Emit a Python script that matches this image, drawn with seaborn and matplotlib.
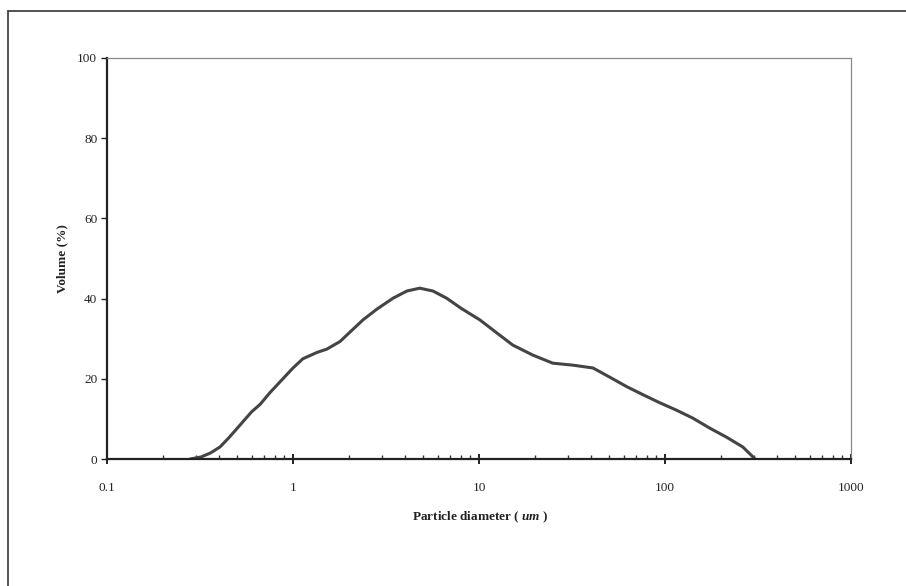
import numpy as np
import pandas as pd
import matplotlib
matplotlib.use("Agg")
import matplotlib.pyplot as plt
import seaborn as sns
from matplotlib.lines import Line2D
from matplotlib.ticker import LogLocator, FixedLocator, FixedFormatter, NullFormatter

# Data
diameter = [0.28, 0.32, 0.36, 0.405, 0.45, 0.50, 0.55, 0.60, 0.665, 0.75, 0.85, 1.0,
            1.13, 1.35, 1.52, 1.79, 2.03, 2.38, 2.83, 3.45, 4.1, 4.8, 5.65, 6.7,
            8.0, 10.1, 12.5, 15.2, 19.5, 24.9, 32.0, 41.0, 50.5, 62.5, 76.4, 94.0,
            115.0, 141.0, 174.0, 215.0, 262.0, 305.0]
volume = [0.0, 0.5, 1.5, 3.0, 5.2, 7.6, 9.8, 11.8, 13.6, 16.5, 19.2, 22.7,
          25.0, 26.6, 27.4, 29.3, 31.7, 34.7, 37.4, 40.1, 41.9, 42.6, 41.9, 40.1,
          37.6, 34.7, 31.4, 28.4, 25.9, 23.9, 23.4, 22.7, 20.4, 18.0, 16.0, 14.0,
          12.2, 10.2, 7.7, 5.4, 3.0, 0.0]
y_ticks = [0, 20, 40, 60, 80, 100]
x_ticks = [0.1, 1, 10, 100, 1000]
x_tick_labels = ["0.1", "1", "10", "100", "1000"]

df = pd.DataFrame({"d": diameter, "v": volume})

sns.set_theme(style="white")
plt.rcParams["font.family"] = ["Liberation Serif", "DejaVu Serif"]
plt.rcParams["mathtext.fontset"] = "custom"
plt.rcParams["mathtext.rm"] = "Liberation Serif:bold"
plt.rcParams["mathtext.it"] = "Liberation Serif:bold:italic"

fig = plt.figure(figsize=(9.06, 5.86), dpi=100)
ax = fig.add_axes([107/906, 1-459/586, (851-107)/906, (459-58)/586])

sns.lineplot(data=df, x="d", y="v", ax=ax, color="#444444", linewidth=2.2)

ax.set_xscale("log")
ax.set_xlim(0.1, 1000)
ax.set_ylim(0, 100)

ax.xaxis.set_major_locator(FixedLocator(x_ticks))
ax.xaxis.set_major_formatter(FixedFormatter(x_tick_labels))
ax.xaxis.set_minor_locator(LogLocator(base=10, subs=np.arange(2, 10), numticks=20))
ax.xaxis.set_minor_formatter(NullFormatter())
ax.set_yticks(y_ticks)
ax.set_yticklabels([str(t) for t in y_ticks])

ax.tick_params(axis="x", which="major", direction="inout", length=7, width=1.4,
               colors="#222222", labelsize=9.5, pad=13, bottom=True)
ax.tick_params(axis="x", which="minor", direction="in", length=3, width=1.0,
               colors="#333333", bottom=True)
ax.tick_params(axis="y", which="major", direction="out", length=4, width=1.0,
               colors="#222222", labelsize=9.5, pad=3, left=True)

for side in ["left", "bottom"]:
    ax.spines[side].set_color("#222222")
    ax.spines[side].set_linewidth(1.6)
for side in ["top", "right"]:
    ax.spines[side].set_color("#888888")
    ax.spines[side].set_linewidth(0.9)

ax.set_xlabel(r"Particle diameter ( $\it{um}$ )", fontsize=9.5, fontweight="bold", color="#222222")
ax.set_ylabel("Volume (%)", fontsize=9.5, fontweight="bold", color="#222222")
ax.xaxis.set_label_coords(0.501, -0.125)
ax.yaxis.set_label_coords(-0.052, 0.5)
ax.grid(False)

# outer frame lines
fig.add_artist(Line2D([8/906, 1.0], [1-11/586, 1-11/586], transform=fig.transFigure,
                      color="#444444", linewidth=1.3))
fig.add_artist(Line2D([8/906, 8/906], [0, 1-11/586], transform=fig.transFigure,
                      color="#444444", linewidth=1.3))

fig.savefig("out.png", dpi=100)
